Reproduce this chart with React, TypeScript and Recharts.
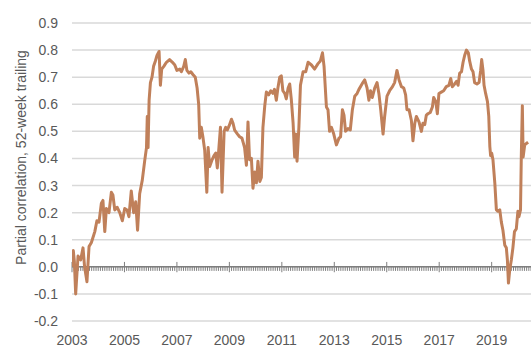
import React from 'react';
import { LineChart, Line, XAxis, YAxis, CartesianGrid, ReferenceLine, Label } from 'recharts';

const years = [
  2003.01, 2003.05, 2003.09, 2003.14, 2003.23, 2003.33, 2003.42, 2003.48, 2003.57, 2003.65,
  2003.74, 2003.87, 2003.95, 2004.03, 2004.12, 2004.18, 2004.25, 2004.31, 2004.41, 2004.50,
  2004.56, 2004.63, 2004.72, 2004.82, 2004.92, 2005.01, 2005.10, 2005.17, 2005.26, 2005.35,
  2005.43, 2005.50, 2005.58, 2005.68, 2005.77, 2005.84, 2005.87, 2005.90, 2005.94, 2005.99,
  2006.05, 2006.11, 2006.18, 2006.24, 2006.32, 2006.37, 2006.42, 2006.50, 2006.60, 2006.72,
  2006.83, 2006.92, 2007.00, 2007.11, 2007.17, 2007.26, 2007.32, 2007.38, 2007.46, 2007.53,
  2007.61, 2007.70, 2007.77, 2007.83, 2007.87, 2007.93, 2007.99, 2008.06, 2008.14, 2008.19,
  2008.25, 2008.34, 2008.41, 2008.48, 2008.54, 2008.59, 2008.66, 2008.72, 2008.80, 2008.86,
  2008.92, 2008.99, 2009.08, 2009.14, 2009.20, 2009.31, 2009.39, 2009.48, 2009.58, 2009.65,
  2009.71, 2009.77, 2009.84, 2009.90, 2009.97, 2010.03, 2010.09, 2010.16, 2010.22, 2010.28,
  2010.35, 2010.41, 2010.50, 2010.58, 2010.66, 2010.72, 2010.79, 2010.85, 2010.92, 2010.98,
  2011.04, 2011.11, 2011.17, 2011.24, 2011.30, 2011.36, 2011.43, 2011.49, 2011.53, 2011.58,
  2011.65, 2011.71, 2011.81, 2011.91, 2012.00, 2012.13, 2012.25, 2012.38, 2012.47, 2012.55,
  2012.61, 2012.70, 2012.76, 2012.82, 2012.89, 2012.98, 2013.08, 2013.18, 2013.24, 2013.31,
  2013.37, 2013.43, 2013.52, 2013.61, 2013.69, 2013.78, 2013.87, 2013.94, 2014.03, 2014.09,
  2014.16, 2014.25, 2014.32, 2014.38, 2014.45, 2014.54, 2014.63, 2014.70, 2014.77, 2014.86,
  2014.92, 2015.01, 2015.11, 2015.22, 2015.30, 2015.39, 2015.47, 2015.56, 2015.65, 2015.72,
  2015.77, 2015.85, 2015.94, 2016.00, 2016.07, 2016.13, 2016.23, 2016.32, 2016.38, 2016.45,
  2016.51, 2016.57, 2016.66, 2016.74, 2016.79, 2016.87, 2016.93, 2016.99, 2017.08, 2017.17,
  2017.27, 2017.37, 2017.44, 2017.50, 2017.59, 2017.66, 2017.72, 2017.78, 2017.85, 2017.91,
  2017.97, 2018.04, 2018.11, 2018.16, 2018.23, 2018.29, 2018.35, 2018.44, 2018.52, 2018.58,
  2018.62, 2018.67, 2018.71, 2018.77, 2018.84, 2018.89, 2018.93, 2018.96, 2019.00, 2019.05,
  2019.12, 2019.18, 2019.24, 2019.31, 2019.37, 2019.43, 2019.50, 2019.56, 2019.60, 2019.64,
  2019.69, 2019.75, 2019.81, 2019.87, 2019.94, 2020.00, 2020.04, 2020.10, 2020.13, 2020.17,
  2020.20, 2020.26, 2020.32, 2020.39,
];

const correlation = [
  0.0, 0.06, 0.02, -0.10, 0.04, 0.025, 0.07, 0.0, -0.055, 0.075,
  0.09, 0.13, 0.17, 0.165, 0.235, 0.245, 0.13, 0.215, 0.2, 0.275,
  0.265, 0.21, 0.22, 0.2, 0.17, 0.215, 0.21, 0.185, 0.28, 0.2,
  0.24, 0.135, 0.27, 0.32, 0.39, 0.44, 0.555, 0.44, 0.615, 0.68,
  0.70, 0.74, 0.76, 0.78, 0.795, 0.67, 0.73, 0.74, 0.755, 0.765,
  0.755, 0.745, 0.725, 0.73, 0.72, 0.74, 0.765, 0.725, 0.715, 0.72,
  0.71, 0.70, 0.66, 0.60, 0.475, 0.515, 0.48, 0.43, 0.275, 0.44,
  0.37, 0.395, 0.41, 0.42, 0.365, 0.425, 0.515, 0.275, 0.5, 0.515,
  0.505, 0.52, 0.545, 0.53, 0.505, 0.49, 0.48, 0.475, 0.44, 0.375,
  0.535, 0.395, 0.40, 0.29, 0.35, 0.31, 0.39, 0.315, 0.33, 0.515,
  0.595, 0.645, 0.635, 0.65, 0.64, 0.655, 0.615, 0.66, 0.70, 0.705,
  0.65, 0.64, 0.62, 0.66, 0.675, 0.62, 0.53, 0.405, 0.49, 0.39,
  0.515, 0.67, 0.72, 0.72, 0.755, 0.745, 0.73, 0.75, 0.76, 0.79,
  0.74, 0.59, 0.58, 0.50, 0.515, 0.49, 0.45, 0.475, 0.48, 0.58,
  0.56, 0.50, 0.51, 0.505, 0.58, 0.63, 0.64, 0.655, 0.67, 0.68,
  0.69, 0.66, 0.615, 0.65, 0.625, 0.66, 0.68, 0.64, 0.58, 0.49,
  0.555, 0.63, 0.65, 0.665, 0.68, 0.725, 0.69, 0.665, 0.66, 0.635,
  0.58, 0.58, 0.54, 0.465, 0.53, 0.555, 0.535, 0.50, 0.53, 0.525,
  0.56, 0.565, 0.57, 0.59, 0.625, 0.61, 0.565, 0.64, 0.645, 0.65,
  0.665, 0.67, 0.695, 0.665, 0.675, 0.685, 0.67, 0.715, 0.72, 0.755,
  0.78, 0.80, 0.79, 0.76, 0.73, 0.72, 0.68, 0.675, 0.68, 0.725,
  0.765, 0.725, 0.67, 0.64, 0.61, 0.555, 0.445, 0.41, 0.42, 0.395,
  0.31, 0.21, 0.205, 0.21, 0.165, 0.135, 0.08, 0.07, 0.025, -0.06,
  -0.01, 0.025, 0.07, 0.13, 0.14, 0.205, 0.185, 0.21, 0.405, 0.595,
  0.405, 0.45, 0.455, 0.46,
];

const yTicks = [-0.2, -0.1, 0.0, 0.1, 0.2, 0.3, 0.4, 0.5, 0.6, 0.7, 0.8, 0.9];
const yearLabels = [2003, 2005, 2007, 2009, 2011, 2013, 2015, 2017, 2019];
const xStart = 2003;
const xEnd = 2020.5;
const yAxisTitle = 'Partial correlation, 52-week trailing';

const data = years.map((t, i) => ({ t, v: correlation[i] }));

const monthTicks: { t: number; major: boolean }[] = [];
for (let m = 0; m <= Math.round((xEnd - xStart) * 12); m++) {
  monthTicks.push({ t: xStart + m / 12, major: m % 24 === 0 });
}

const FONT = '"Liberation Sans", Arial, sans-serif';
const TEXT = '#595959';
const LINE = '#c0805a';
const AXIS = '#7f7f7f';

export default function App() {
  return (
    <div style={{ position: 'absolute', left: 0, top: 0, fontFamily: FONT }}>
      <LineChart
        width={531}
        height={354}
        data={data}
        margin={{ top: 23, right: 0, bottom: 0, left: 0 }}
      >
        <CartesianGrid horizontal vertical={false} stroke="#d9d9d9" strokeWidth={1.5} />
        <XAxis
          dataKey="t"
          type="number"
          domain={[xStart, xEnd]}
          ticks={yearLabels}
          allowDataOverflow
          axisLine={false}
          tickLine={false}
          tickSize={0}
          tickMargin={14}
          height={33}
          tick={{ fill: TEXT, fontSize: 14, fontFamily: FONT }}
        />
        <YAxis
          type="number"
          domain={[-0.2, 0.9]}
          ticks={yTicks}
          width={72}
          axisLine={false}
          tickLine={false}
          tickSize={0}
          tickMargin={14}
          tickFormatter={(v: number) => v.toFixed(1)}
          tick={{ fill: TEXT, fontSize: 14, fontFamily: FONT }}
        >
          <Label
            content={(props: any) => {
              const vb = props.viewBox || { x: 0, y: 23, width: 72, height: 298 };
              const x = vb.x + 26;
              const y = vb.y + vb.height / 2 - 14.5;
              return (
                <text
                  x={x}
                  y={y}
                  transform={`rotate(-90, ${x}, ${y})`}
                  textAnchor="middle"
                  fill={TEXT}
                  fontSize={14}
                  fontFamily={FONT}
                >
                  {yAxisTitle}
                </text>
              );
            }}
          />
        </YAxis>
        <ReferenceLine y={0} stroke={AXIS} strokeWidth={1.5} />
        {monthTicks.map((mt, i) => (
          <ReferenceLine
            key={i}
            segment={[
              { x: mt.t, y: mt.major ? 0.018 : 0 },
              { x: mt.t, y: mt.major ? -0.02 : -0.015 },
            ]}
            stroke={AXIS}
            strokeWidth={1}
            ifOverflow="visible"
          />
        ))}
        <Line
          type="linear"
          dataKey="v"
          stroke={LINE}
          strokeWidth={3}
          dot={false}
          strokeLinejoin="round"
          isAnimationActive={false}
        />
      </LineChart>
    </div>
  );
}
